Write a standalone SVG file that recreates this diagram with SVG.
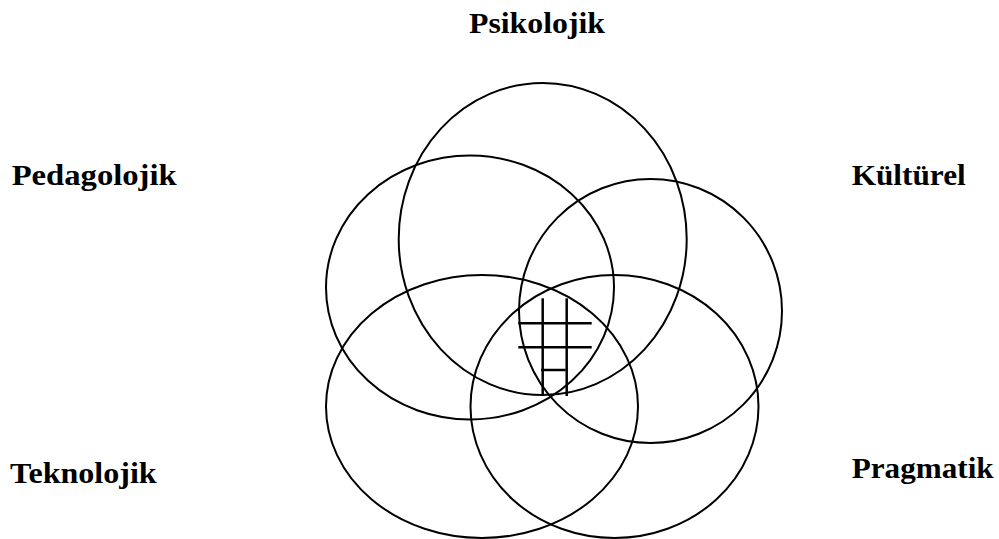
<svg xmlns="http://www.w3.org/2000/svg" width="999" height="539" viewBox="0 0 999 539">
<style>
.c{fill:none;stroke:#000;stroke-width:2}
.h{stroke:#000;stroke-width:2.5;fill:none}
.t{font-family:"Liberation Serif","Times New Roman",serif;font-weight:bold;font-size:30px;fill:#000}
</style>
<rect width="999" height="539" fill="#fff"/>
<g id="psikolojik"><ellipse class="c" cx="542.7" cy="239" rx="144" ry="156"/><text class="t" x="469" y="32.7" textLength="136" lengthAdjust="spacingAndGlyphs">Psikolojik</text></g>
<g id="pedagolojik"><ellipse class="c" cx="470" cy="287.5" rx="144" ry="132"/><text class="t" x="11.7" y="185" textLength="165" lengthAdjust="spacingAndGlyphs">Pedagolojik</text></g>
<g id="kulturel"><ellipse class="c" cx="650.5" cy="311" rx="131.5" ry="132"/><text class="t" x="851.7" y="185" textLength="114" lengthAdjust="spacingAndGlyphs">Kültürel</text></g>
<g id="teknolojik"><ellipse class="c" cx="482" cy="406.5" rx="156" ry="131.5"/><text class="t" x="10" y="483.3" textLength="146.7" lengthAdjust="spacingAndGlyphs">Teknolojik</text></g>
<g id="pragmatik"><ellipse class="c" cx="614.5" cy="406.5" rx="144" ry="131.5"/><text class="t" x="851.7" y="478" textLength="142" lengthAdjust="spacingAndGlyphs">Pragmatik</text></g>
<g id="hatch">
<line class="h" x1="542.7" y1="298.3" x2="542.7" y2="395"/>
<line class="h" x1="566.7" y1="298.3" x2="566.7" y2="396"/>
<line class="h" x1="518.3" y1="323.3" x2="591.7" y2="323.3"/>
<line class="h" x1="518.3" y1="347.3" x2="591.7" y2="347.3"/>
<line class="h" x1="541" y1="370" x2="565.7" y2="370"/>
</g>
</svg>
